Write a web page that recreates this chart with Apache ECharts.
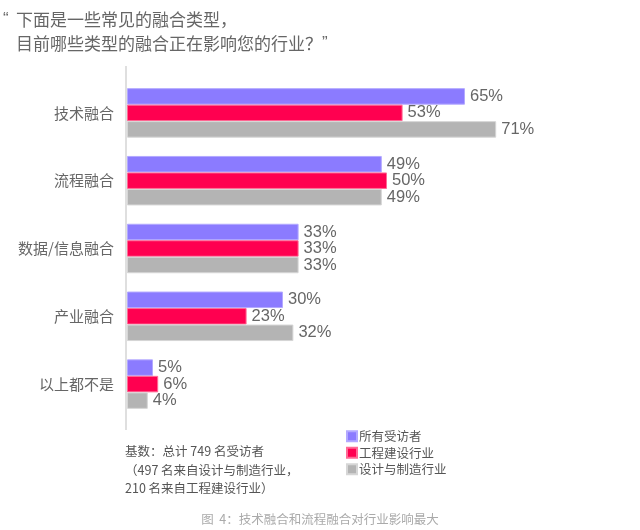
<!DOCTYPE html>
<html><head><meta charset="utf-8">
<script src="https://cdn.jsdelivr.net/npm/echarts@6/dist/echarts.min.js"></script>
<style>html,body{margin:0;padding:0;background:#fff}#c{width:640px;height:530px}</style>
</head><body><div id="c"></div>
<script>
const categories = ['技术融合','流程融合','数据/信息融合','产业融合','以上都不是'];
const seriesNames = ['所有受访者','工程建设行业','设计与制造行业'];
const allRespondents = [65,49,33,30,5];
const construction = [53,50,33,23,6];
const manufacturing = [71,49,33,32,4];
const colors = ['#8b7bff','#ff0050','#b4b4b4'];
const borders = ['#b3a9ff','#ff6a95','#d6d6d6'];
const FONT = '"Noto Sans CJK SC", "Noto Sans", sans-serif';
const values = [allRespondents, construction, manufacturing];

const chart = echarts.init(document.getElementById('c'));
chart.setOption({
  animation:false,
  textStyle:{fontFamily:FONT},
  title:[
    {text:'{q|“}下面是一些常见的融合类型，\n{s| }目前哪些类型的融合正在影响您的行业？{q|”}', left:-2, top:3,
     textStyle:{fontSize:17, fontWeight:'normal', color:'#666', lineHeight:23.5, fontFamily:FONT,
       rich:{q:{fontSize:17, color:'#666', fontFamily:'"Liberation Sans", sans-serif', width:13},
             s:{fontSize:17, width:13}}}},
    {text:'基数：总计 749 名受访者\n（497 名来自设计与制造行业，\n210 名来自工程建设行业）', left:120, top:437,
     textStyle:{fontSize:12.5, fontWeight:'normal', color:'#555', lineHeight:18.5, fontFamily:FONT}},
    {text:'图  4：技术融合和流程融合对行业影响最大', left:'center', top:508,
     textStyle:{fontSize:12.5, fontWeight:'normal', color:'#aaa', fontFamily:FONT}}
  ],
  legend:{orient:'vertical', left:341, top:425, icon:'rect', itemWidth:10, itemHeight:10, itemGap:4,
    textStyle:{fontSize:12.5, color:'#555', fontFamily:FONT, padding:[0,0,0,-3]}, data:seriesNames},
  grid:{left:127, top:79, width:416, height:339},
  xAxis:{type:'value', min:0, max:80, show:false},
  yAxis:{type:'category', data:categories, inverse:true,
    axisLine:{show:false}, axisTick:{show:false},
    axisLabel:{fontSize:15, color:'#666', margin:13, fontFamily:FONT}},
  graphic:[{type:'line', shape:{x1:126, y1:66, x2:126, y2:430}, style:{stroke:'#d4d4d4', lineWidth:1.5}}],
  series: seriesNames.map((n,i)=>({
    name:n, type:'bar', data:values[i], barWidth:16.5, barGap:'0%', barCategoryGap:'26%',
    itemStyle:{color:colors[i], borderColor:borders[i], borderWidth:1},
    label:{show:true, position:'right', distance:5, formatter:'{c}%', fontSize:16.5, color:'#666', fontFamily:'"Liberation Sans", sans-serif'}
  }))
});
</script></body></html>
